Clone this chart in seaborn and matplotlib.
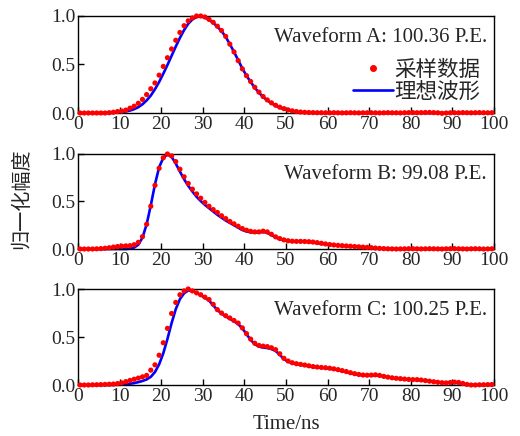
import numpy as np
import pandas as pd
import matplotlib
matplotlib.use("Agg")
import matplotlib.pyplot as plt
import seaborn as sns
from matplotlib.lines import Line2D

# ---------------- data ----------------
time_ns = np.arange(0.5, 100.0, 1.0)  # sample times (ns)

a_sampled = [0.0, 0.0, 0.0, 0.0, 0.0, 0.0, 0.0, 0.003, 0.008, 0.015,
             0.02, 0.03, 0.05, 0.07, 0.10, 0.14, 0.19, 0.25, 0.31, 0.39,
             0.48, 0.57, 0.66, 0.75, 0.83, 0.90, 0.95, 0.98, 1.0, 1.0,
             0.99, 0.965, 0.935, 0.895, 0.85, 0.79, 0.71, 0.63, 0.54, 0.455,
             0.385, 0.325, 0.265, 0.215, 0.17, 0.135, 0.105, 0.08, 0.06, 0.045,
             0.032, 0.022, 0.015, 0.01, 0.007, 0.005, 0.004, 0.003, 0.003, 0.002,
             0.002, 0.003, 0.002, 0.001, 0.002, 0.003, 0.002, 0.001, 0.002, 0.002,
             0.003, 0.002, 0.001, 0.002, 0.003, 0.002, 0.002, 0.001, 0.003, 0.004,
             0.004, 0.003, 0.004, 0.005, 0.006, 0.004, 0.002, -0.003, 0.0, 0.002,
             0.003, 0.002, 0.004, 0.003, 0.002, 0.003, 0.004, 0.003, 0.002, 0.003]
a_ideal = [0, 0, 0, 0, 0, 0, 0, 0, 0.003, 0.006,
           0.01, 0.016, 0.025, 0.04, 0.06, 0.09, 0.13, 0.18, 0.245, 0.32,
           0.405, 0.495, 0.59, 0.685, 0.775, 0.855, 0.92, 0.965, 0.99, 0.995,
           0.985, 0.96, 0.93, 0.89, 0.845, 0.785, 0.71, 0.63, 0.545, 0.46,
           0.385, 0.32, 0.26, 0.21, 0.165, 0.13, 0.10, 0.075, 0.056, 0.04,
           0.028, 0.019, 0.012, 0.007, 0.004, 0.002, 0.001, 0, 0, 0,
           0, 0, 0, 0, 0, 0, 0, 0, 0, 0,
           0, 0, 0, 0, 0, 0, 0, 0, 0, 0,
           0, 0, 0, 0, 0, 0, 0, 0, 0, 0,
           0, 0, 0, 0, 0, 0, 0, 0, 0, 0]

b_sampled = [0.0, 0.0, 0.0, 0.0, 0.002, 0.004, 0.008, 0.013, 0.02, 0.026,
             0.03, 0.033, 0.035, 0.045, 0.07, 0.13, 0.26, 0.45, 0.67, 0.85,
             0.96, 1.0, 0.98, 0.92, 0.84, 0.76, 0.69, 0.63, 0.58, 0.535,
             0.49, 0.45, 0.415, 0.385, 0.35, 0.32, 0.29, 0.265, 0.24, 0.215,
             0.198, 0.186, 0.18, 0.18, 0.188, 0.18, 0.155, 0.128, 0.11, 0.096,
             0.087, 0.082, 0.08, 0.08, 0.079, 0.077, 0.073, 0.067, 0.06, 0.053,
             0.047, 0.042, 0.038, 0.035, 0.032, 0.029, 0.026, 0.023, 0.02, 0.017,
             0.014, 0.01, 0.007, 0.004, 0.002, 0.001, 0.0, 0.001, 0.002, 0.003,
             0.003, 0.002, 0.001, 0.002, 0.003, 0.002, 0.001, 0.0, 0.002, 0.003,
             0.004, 0.002, 0.001, 0.0, 0.002, 0.003, 0.002, 0.0, 0.001, 0.002]
b_ideal = [0, 0, 0, 0, 0, 0, 0, 0, 0, 0,
           0, 0, 0.004, 0.015, 0.045, 0.12, 0.26, 0.46, 0.68, 0.86,
           0.96, 0.995, 0.97, 0.9, 0.815, 0.735, 0.665, 0.605, 0.55, 0.505,
           0.465, 0.43, 0.395, 0.36, 0.33, 0.3, 0.275, 0.25, 0.225, 0.2,
           0.185, 0.177, 0.173, 0.174, 0.18, 0.17, 0.148, 0.122, 0.104, 0.092,
           0.085, 0.08, 0.078, 0.077, 0.076, 0.073, 0.068, 0.062, 0.055, 0.049,
           0.044, 0.04, 0.036, 0.033, 0.03, 0.027, 0.024, 0.021, 0.018, 0.015,
           0.012, 0.009, 0.006, 0.003, 0.001, 0, 0, 0, 0, 0,
           0, 0, 0, 0, 0, 0, 0, 0, 0, 0,
           0, 0, 0, 0, 0, 0, 0, 0, 0, 0]

c_sampled = [0.0, 0.0, 0.0, 0.002, 0.003, 0.004, 0.006, 0.008, 0.01, 0.015,
             0.022, 0.035, 0.048, 0.06, 0.072, 0.085, 0.1, 0.155, 0.21, 0.31,
             0.44, 0.59, 0.745, 0.86, 0.94, 0.98, 1.0, 0.98, 0.96, 0.94,
             0.915, 0.89, 0.84, 0.785, 0.75, 0.722, 0.698, 0.672, 0.645, 0.595,
             0.535, 0.478, 0.435, 0.412, 0.405, 0.4, 0.388, 0.368, 0.325, 0.278,
             0.25, 0.232, 0.222, 0.215, 0.208, 0.2, 0.192, 0.187, 0.183, 0.18,
             0.175, 0.168, 0.16, 0.15, 0.14, 0.128, 0.118, 0.11, 0.104, 0.102,
             0.103, 0.106, 0.1, 0.09, 0.082, 0.075, 0.07, 0.066, 0.062, 0.058,
             0.056, 0.056, 0.052, 0.046, 0.04, 0.034, 0.028, 0.024, 0.022, 0.026,
             0.03, 0.027, 0.016, 0.006, 0.0, 0.0, 0.002, 0.003, 0.004, 0.005]
c_ideal = [0, 0, 0, 0, 0, 0, 0, 0, 0.001, 0.002,
           0.004, 0.008, 0.013, 0.02, 0.03, 0.042, 0.058, 0.085, 0.135, 0.215,
           0.33, 0.48, 0.645, 0.79, 0.895, 0.955, 0.985, 0.98, 0.96, 0.935,
           0.91, 0.88, 0.83, 0.78, 0.745, 0.715, 0.69, 0.665, 0.635, 0.59,
           0.53, 0.47, 0.425, 0.4, 0.39, 0.385, 0.375, 0.355, 0.315, 0.27,
           0.243, 0.228, 0.218, 0.21, 0.203, 0.195, 0.188, 0.183, 0.179, 0.175,
           0.17, 0.163, 0.155, 0.145, 0.135, 0.124, 0.114, 0.106, 0.1, 0.098,
           0.099, 0.1, 0.096, 0.088, 0.08, 0.073, 0.068, 0.064, 0.06, 0.056,
           0.054, 0.053, 0.05, 0.045, 0.04, 0.034, 0.03, 0.026, 0.023, 0.022,
           0.022, 0.02, 0.014, 0.007, 0.002, 0, 0, 0, 0, 0]

panel_titles = ["Waveform A: 100.36 P.E.", "Waveform B: 99.08 P.E.", "Waveform C: 100.25 P.E."]
legend_labels = ["采样数据", "理想波形"]
x_ticks = [0, 10, 20, 30, 40, 50, 60, 70, 80, 90, 100]
y_ticks = [0.0, 0.5, 1.0]
y_label = "归一化幅度"
x_label = "Time/ns"

# ---------------- style ----------------
sns.set_theme(style="ticks")
plt.rcParams["font.family"] = ["Liberation Serif", "Noto Sans CJK SC"]
plt.rcParams["axes.linewidth"] = 1.0
plt.rcParams["xtick.direction"] = "in"
plt.rcParams["ytick.direction"] = "in"

fig = plt.figure(figsize=(5.2, 4.36), dpi=100)
W, H = 520.0, 436.0
boxes = [(78, 16, 494, 113), (78, 154, 494, 249), (78, 289, 494, 385)]
series = [(a_sampled, a_ideal), (b_sampled, b_ideal), (c_sampled, c_ideal)]

axes = []
for i, ((l, t, r, b), (samp, ideal)) in enumerate(zip(boxes, series)):
    ax = fig.add_axes([l / W, 1 - b / H, (r - l) / W, (b - t) / H])
    axes.append(ax)
    df = pd.DataFrame({"t": time_ns, "sampled": samp, "ideal": ideal})
    sns.lineplot(data=df, x="t", y="ideal", ax=ax, color="#0000FF", lw=1.9,
                 zorder=2, clip_on=False)
    sns.scatterplot(data=df, x="t", y="sampled", ax=ax, color="#FF0000", s=14,
                    edgecolor="none", zorder=3, clip_on=False)
    ax.set_xlim(0, 100)
    ax.set_ylim(0, 1.0)
    ax.set_xticks(x_ticks)
    ax.set_yticks(y_ticks)
    ax.set_yticklabels([f"{v:.1f}" for v in y_ticks])
    ax.tick_params(axis="both", labelsize=14, length=4, width=1.0, color="black",
                   pad=2)
    ax.set_xlabel("")
    ax.set_ylabel("")
    for s in ax.spines.values():
        s.set_visible(True)
        s.set_color("black")
    ax.text(0.983, 0.78, panel_titles[i], transform=ax.transAxes, ha="right",
            va="center", fontsize=15, family="Liberation Serif")

# legend in first panel
handles = [Line2D([], [], ls="none", marker="o", color="#FF0000", ms=4),
           Line2D([], [], color="#0000FF", lw=1.9)]
axes[0].legend(handles, legend_labels, loc="upper right", bbox_to_anchor=(0.968, 0.56),
               frameon=False, prop={"family": "Noto Sans CJK SC", "size": 15.5},
               handlelength=1.85, handletextpad=0.1, labelspacing=0.0,
               borderpad=0.0, borderaxespad=0.0)

fig.text(22 / W, 1 - 199 / H, y_label, rotation=90, ha="center", va="center",
         fontsize=14.5, family="Noto Sans CJK SC")
fig.text(286 / W, 1 - 424 / H, x_label, ha="center", va="center", fontsize=15,
         family="Liberation Serif")

fig.savefig("out.png", dpi=100)
